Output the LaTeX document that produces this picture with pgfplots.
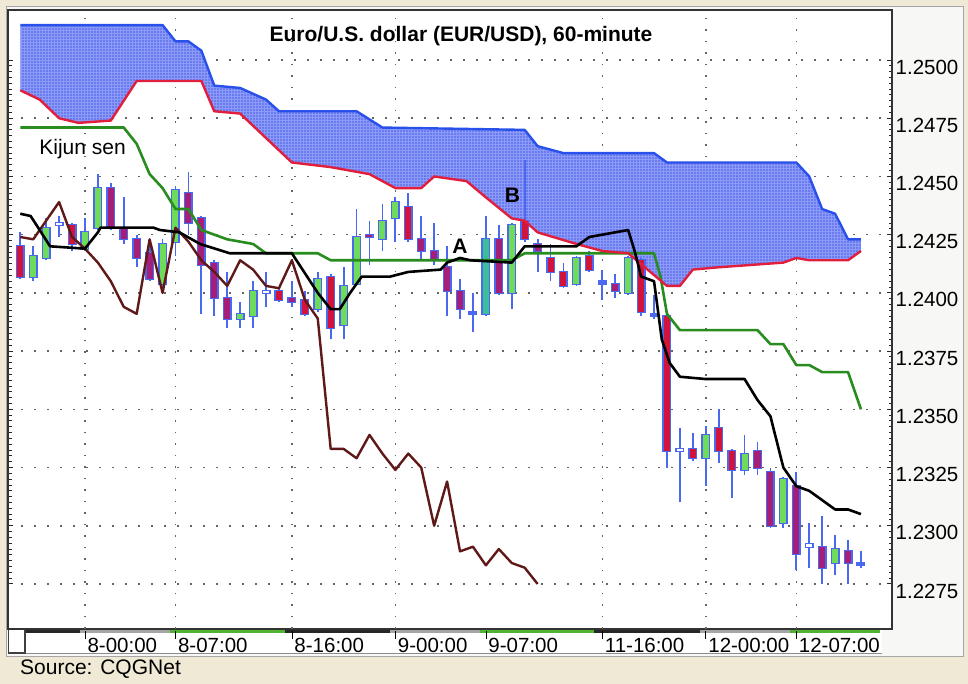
\documentclass[border=0pt]{standalone}
\usepackage{pgfplots}
\pgfplotsset{compat=1.18}
\usepackage{pgfplotstable}
\usetikzlibrary{patterns}
\usepackage{fontspec}
\setmainfont{Liberation Sans}

\definecolor{cream}{RGB}{239,233,213}
\definecolor{panel}{RGB}{247,247,245}
\definecolor{cloudfill}{RGB}{95,112,238}
\definecolor{cloudgrid}{RGB}{140,154,248}
\definecolor{lblue}{RGB}{40,80,235}
\definecolor{lred}{RGB}{225,30,60}
\definecolor{lgreen}{RGB}{40,140,30}
\definecolor{lbrown}{RGB}{95,25,25}
\definecolor{cwick}{RGB}{75,105,240}
\definecolor{cgreen}{RGB}{110,220,90}
\definecolor{cteal}{RGB}{60,190,150}
\definecolor{cred}{RGB}{210,20,60}
\definecolor{cmag}{RGB}{165,30,120}
\definecolor{bandgray}{RGB}{165,165,165}
\definecolor{bandgreen}{RGB}{80,180,50}
\definecolor{griddot}{RGB}{100,100,100}

\pgfplotsset{
  wick/.style={draw=cwick, line width=1.8pt},
  bodyo/.style={draw=cwick, line width=9pt, shorten <=-1pt, shorten >=-1pt},
  bodyi/.style={line width=6pt},
}
\newcommand{\cdl}[6]{%
  \addplot[wick] coordinates {(#1,#4) (#1,#3)};
  \addplot[bodyo] coordinates {(#1,#2) (#1,#5)};
  \addplot[bodyi, draw=#6] coordinates {(#1,#2) (#1,#5)};
}

% Senkou span B (upper cloud edge, blue)
\pgfplotstableread{
x y
-5 1.2515
6 1.2515
7 1.2508
8 1.2508
9 1.2504
10 1.2489
12 1.2488
14 1.2483
15 1.2478
21 1.2478
23 1.2471
34 1.2470
35 1.2463
37 1.2460
44 1.2460
45 1.2456
55 1.2456
56 1.2450
57 1.2436
58 1.2434
59 1.2423
60 1.2423
}\spanB

% Senkou span A (lower cloud edge, red)
\pgfplotstableread{
x y
-5 1.2487
-3.5 1.2483
-2 1.2475
-0.5 1.2473
2 1.2474
4 1.2491
9 1.2491
10 1.2478
12 1.2477
16 1.2456
19 1.2454
22 1.2451
24 1.2445
26 1.2445
27 1.2450
29.5 1.2448
31 1.2441
33 1.2432
34 1.2431
35 1.2426
38 1.2421
40 1.2418
42 1.2417
45 1.2403
46 1.2403
47 1.2410
49 1.2411
54 1.2413
55 1.2415
56 1.2414
59 1.2414
60 1.2418
}\spanA

% Cloud outline: span B forward, span A backward
\pgfplotstableread{
x y
-5 1.2515
6 1.2515
7 1.2508
8 1.2508
9 1.2504
10 1.2489
12 1.2488
14 1.2483
15 1.2478
21 1.2478
23 1.2471
34 1.2470
35 1.2463
37 1.2460
44 1.2460
45 1.2456
55 1.2456
56 1.2450
57 1.2436
58 1.2434
59 1.2423
60 1.2423
60 1.2418
59 1.2414
56 1.2414
55 1.2415
54 1.2413
49 1.2411
47 1.2410
46 1.2403
45 1.2403
42 1.2417
40 1.2418
38 1.2421
35 1.2426
34 1.2431
33 1.2432
31 1.2441
29.5 1.2448
27 1.2450
26 1.2445
24 1.2445
22 1.2451
19 1.2454
16 1.2456
12 1.2477
10 1.2478
9 1.2491
4 1.2491
2 1.2474
-0.5 1.2473
-2 1.2475
-3.5 1.2483
-5 1.2487
}\cloud

% Kijun sen (green)
\pgfplotstableread{
x y
-5 1.2471
3 1.2471
4 1.2464
5 1.2451
6 1.2445
7 1.2436
8 1.2436
9 1.2427
11 1.2423
13 1.2421
14 1.2417
18 1.2417
19 1.2414
33 1.2414
34 1.2417
44 1.2417
44.5 1.2407
45 1.2391
46 1.2384
52 1.2384
53 1.2378
54 1.2378
55 1.2369
56 1.2369
57 1.2366
59 1.2366
60 1.2350
}\kijun

% Tenkan sen (black)
\pgfplotstableread{
x y
-5 1.2434
-4.2 1.2433
-3.5 1.2427
-2.7 1.2420
0 1.2419
1 1.2426
1.2 1.2428
5.3 1.2428
5.8 1.2427
7.3 1.2426
8.9 1.2421
11.2 1.2417
16 1.2417
18 1.2400
19 1.2393
19.7 1.2393
20.5 1.2400
21.4 1.2407
23.6 1.2407
25 1.2409
27.5 1.2410
28 1.2413
29 1.2415
29.8 1.2414
33 1.2413
34 1.2420
38 1.2420
39 1.2424
41 1.2426
42 1.2427
42.5 1.2418
43 1.2407
44 1.2405
44.6 1.2380
45.2 1.2370
46 1.2364
48 1.2363
51 1.2363
52 1.2354
53 1.2347
54 1.2325
55 1.2317
56 1.2315
58 1.2307
59 1.2307
60 1.2305
}\tenkan

% Chikou span (brown)
\pgfplotstableread{
x y
-5 1.2424
-4 1.2423
-3 1.2431
-2 1.2439
-1 1.2424
0 1.2419
1 1.2413
2 1.2405
3 1.2394
4 1.2391
5 1.2423
6 1.2400
7 1.2428
8 1.2422
9 1.2414
10 1.2409
11 1.2403
12 1.2414
13 1.2410
14 1.2403
15 1.2402
16 1.2414
17 1.2397
18 1.2389
19 1.2333
20 1.2333
21 1.2329
22 1.2339
23 1.2331
24 1.2324
25 1.2331
26 1.2325
27 1.2300
28 1.2319
29 1.2289
30 1.2291
31 1.2283
32 1.2290
33 1.2284
34 1.2282
35 1.2275
}\chikou

\begin{document}
\begin{tikzpicture}
\begin{scope}[x=1pt,y=1pt]
\useasboundingbox (0,0) rectangle (968,684);
\fill[cream] (0,0) rectangle (968,684);
\fill[panel] (6,28) rectangle (963,678);
\draw[black!35, line width=0.8pt] (6,28) rectangle (963,678);
\fill[white] (8,31) rectangle (882,55);
\draw[black!45, line width=0.8pt] (8,31) -- (882,31);
\fill[black!85] (25,51) rectangle (80,55);
\fill[bandgray] (80,51) rectangle (170,55);
\fill[bandgreen] (170,51) rectangle (285,55);
\fill[black!85] (285,51) rectangle (390,55);
\fill[bandgray] (390,51) rectangle (480,55);
\fill[bandgreen] (480,51) rectangle (594,55);
\fill[black!85] (594,51) rectangle (700,55);
\fill[bandgray] (700,51) rectangle (790,55);
\fill[bandgreen] (790,51) rectangle (880,55);
\draw[black!75, line width=1.2pt, fill=white] (8.6,31) rectangle (25,55);
\end{scope}

\begin{axis}[
  at={(8pt,55pt)}, anchor=south west,
  scale only axis, width=884pt, height=619pt,
  xmin=-5.95, xmax=62.4, ymin=1.225567, ymax=1.252148,
  axis background/.style={fill=white},
  axis line style={draw=black!80, line width=1.2pt},
  xtick={0,7,16,24,31,40,48,55},
  xticklabels={{\rule[13pt]{0.9pt}{8pt}\hspace{2pt}8-00:00},
               {\rule[13pt]{0.9pt}{8pt}\hspace{2pt}8-07:00},
               {\rule[13pt]{0.9pt}{8pt}\hspace{2pt}8-16:00},
               {\rule[13pt]{0.9pt}{8pt}\hspace{2pt}9-00:00},
               {\rule[13pt]{0.9pt}{8pt}\hspace{2pt}9-07:00},
               {\rule[13pt]{0.9pt}{8pt}\hspace{2pt}11-16:00},
               {\rule[13pt]{0.9pt}{8pt}\hspace{2pt}12-00:00},
               {\rule[13pt]{0.9pt}{8pt}\hspace{2pt}12-07:00}},
  xtick style={draw=none},
  xtick pos=bottom,
  xticklabel style={font=\fontsize{20.5}{24}\selectfont, anchor=north west, inner sep=0pt, xshift=-0.5pt, yshift=-2pt},
  extra x ticks={0,7,16,24,40,48,55},
  extra x tick labels={},
  extra x tick style={grid=major, major tick length=0pt},
  x grid style={draw=griddot, line width=1.5pt, dash pattern=on 1.5pt off 10pt},
  ytick={1.2275,1.2300,1.2325,1.2350,1.2375,1.2400,1.2425,1.2450,1.2475,1.2500},
  yticklabels={1.2275,1.2300,1.2325,1.2350,1.2375,1.2400,1.2425,1.2450,1.2475,1.2500},
  yticklabel pos=right,
  ytick pos=both,
  minor y tick num=9,
  tick align=inside,
  major tick length=5pt, minor tick length=3.5pt,
  ytick style={draw=black!85, line width=1pt},
  minor tick style={draw=black!85, line width=1pt},
  yticklabel style={font=\fontsize{20.5}{24}\selectfont, anchor=west, inner sep=0pt, xshift=3.5pt, yshift=-7pt},
  ymajorgrids,
  y grid style={draw=griddot, line width=1.5pt, dash pattern=on 1.5pt off 11.5pt},
  clip=true,
]
\addplot[fill=cloudfill, draw=none, fill opacity=0.93] table {\cloud};
\addplot[pattern=grid, pattern color=cloudgrid, draw=none] table {\cloud};

\cdl{-5}{1.2420}{1.2426}{1.2406}{1.2407}{cred}
\cdl{-4}{1.2407}{1.2420}{1.2405}{1.2416}{cgreen}
\cdl{-3}{1.2415}{1.2432}{1.2414}{1.2428}{cgreen}
\cdl{-2}{1.2430}{1.2433}{1.2424}{1.2429}{white}
\cdl{-1}{1.2429}{1.2430}{1.2418}{1.2421}{cred}
\cdl{0}{1.2419}{1.2432}{1.2418}{1.2426}{cgreen}
\cdl{1}{1.2428}{1.2451}{1.2427}{1.2445}{cgreen}
\cdl{2}{1.2445}{1.2447}{1.2427}{1.2428}{cmag}
\cdl{3}{1.2428}{1.2441}{1.2421}{1.2423}{cmag}
\cdl{4}{1.2423}{1.2425}{1.2411}{1.2415}{cmag}
\cdl{5}{1.2417}{1.2423}{1.2405}{1.2406}{cmag}
\cdl{6}{1.2404}{1.2423}{1.2403}{1.2421}{cgreen}
\cdl{7}{1.2422}{1.2446}{1.2416}{1.2444}{cgreen}
\cdl{8}{1.2443}{1.2452}{1.2425}{1.2430}{cmag}
\cdl{9}{1.2432}{1.2433}{1.2391}{1.2412}{cmag}
\cdl{10}{1.2413}{1.2414}{1.2390}{1.2398}{cmag}
\cdl{11}{1.2398}{1.2409}{1.2385}{1.2389}{cmag}
\cdl{12}{1.2389}{1.2396}{1.2385}{1.2391}{cgreen}
\cdl{13}{1.2390}{1.2405}{1.2385}{1.2401}{cgreen}
\cdl{14}{1.2401}{1.2409}{1.2394}{1.2400}{white}
\cdl{15}{1.2401}{1.2402}{1.2396}{1.2397}{cred}
\cdl{16}{1.2398}{1.2405}{1.2394}{1.2396}{cmag}
\cdl{17}{1.2397}{1.2401}{1.2390}{1.2391}{cred}
\cdl{18}{1.2393}{1.2409}{1.2392}{1.2406}{cgreen}
\cdl{19}{1.2407}{1.2408}{1.2380}{1.2385}{cred}
\cdl{20}{1.2386}{1.2411}{1.2380}{1.2403}{cgreen}
\cdl{21}{1.2404}{1.2436}{1.2403}{1.2424}{cgreen}
\cdl{22}{1.2425}{1.2431}{1.2412}{1.2424}{cmag}
\cdl{23}{1.2423}{1.2438}{1.2418}{1.2431}{cgreen}
\cdl{24}{1.2432}{1.2441}{1.2422}{1.2439}{cgreen}
\cdl{25}{1.2437}{1.2443}{1.2422}{1.2423}{cred}
\cdl{26}{1.2423}{1.2433}{1.2414}{1.2418}{cmag}
\cdl{27}{1.2418}{1.2430}{1.2412}{1.2414}{cmag}
\cdl{28}{1.2411}{1.2420}{1.2390}{1.2401}{cmag}
\cdl{29}{1.2401}{1.2406}{1.2389}{1.2393}{cmag}
\cdl{30}{1.2392}{1.2400}{1.2383}{1.2391}{cwick}
\cdl{31}{1.2391}{1.2433}{1.2390}{1.2423}{cteal}
\cdl{32}{1.2423}{1.2429}{1.2399}{1.2400}{cmag}
\cdl{33}{1.2400}{1.2430}{1.2393}{1.2429}{cgreen}
\cdl{34}{1.2431}{1.2457}{1.2422}{1.2423}{cred}
\cdl{35}{1.2421}{1.2423}{1.2409}{1.2418}{cmag}
\cdl{36}{1.2415}{1.2421}{1.2405}{1.2409}{cred}
\cdl{37}{1.2409}{1.2413}{1.2402}{1.2403}{cred}
\cdl{38}{1.2404}{1.2416}{1.2403}{1.2415}{cgreen}
\cdl{39}{1.2416}{1.2418}{1.2409}{1.2410}{cred}
\cdl{40}{1.2405}{1.2410}{1.2397}{1.2404}{cwick}
\cdl{41}{1.2404}{1.2408}{1.2398}{1.2401}{cmag}
\cdl{42}{1.2400}{1.2416}{1.2399}{1.2415}{cgreen}
\cdl{43}{1.2414}{1.2415}{1.2390}{1.2392}{cred}
\cdl{44}{1.2391}{1.2399}{1.2389}{1.2390}{cwick}
\cdl{45}{1.2390}{1.2391}{1.2325}{1.2332}{cred}
\cdl{46}{1.2333}{1.2342}{1.2310}{1.2332}{white}
\cdl{47}{1.2333}{1.2340}{1.2328}{1.2329}{cred}
\cdl{48}{1.2329}{1.2343}{1.2317}{1.2339}{cgreen}
\cdl{49}{1.2342}{1.2350}{1.2327}{1.2332}{cred}
\cdl{50}{1.2332}{1.2333}{1.2312}{1.2324}{cred}
\cdl{51}{1.2324}{1.2339}{1.2322}{1.2331}{cgreen}
\cdl{52}{1.2332}{1.2336}{1.2322}{1.2325}{cmag}
\cdl{53}{1.2323}{1.2325}{1.2299}{1.2300}{cmag}
\cdl{54}{1.2301}{1.2321}{1.2299}{1.2320}{cgreen}
\cdl{55}{1.2317}{1.2323}{1.2281}{1.2288}{cmag}
\cdl{56}{1.2292}{1.2301}{1.2282}{1.2291}{white}
\cdl{57}{1.2291}{1.2304}{1.2275}{1.2282}{cmag}
\cdl{58}{1.2284}{1.2296}{1.2279}{1.2290}{cgreen}
\cdl{59}{1.2289}{1.2294}{1.2275}{1.2284}{cmag}
\cdl{60}{1.2284}{1.2289}{1.2282}{1.2283}{cwick}

\addplot[draw=lbrown, line width=2.4pt, line join=round] table {\chikou};
\addplot[draw=lgreen, line width=2.6pt, line join=round] table {\kijun};
\addplot[draw=lred, line width=2.4pt, line join=round] table {\spanA};
\addplot[draw=lblue, line width=2.4pt, line join=round] table {\spanB};
\addplot[draw=black, line width=2.6pt, line join=round] table {\tenkan};

\node[anchor=base west, font=\fontsize{21}{25}\selectfont] at (axis cs:-3.8,1.24596) {Kijun sen};
\node[anchor=base, font=\bfseries\fontsize{21}{25}\selectfont] at (axis cs:29.0,1.24171) {A};
\node[anchor=base, font=\bfseries\fontsize{21}{25}\selectfont] at (axis cs:33.06,1.24386) {B};
\end{axis}

\begin{scope}[x=1pt,y=1pt]
\node[anchor=base, font=\bfseries\fontsize{21}{25}\selectfont] at (461,642) {Euro/U.S. dollar (EUR/USD), 60-minute};
\node[anchor=base west, font=\fontsize{21}{25}\selectfont, inner sep=0pt] at (20,9) {Source: CQGNet};
\end{scope}
\end{tikzpicture}
\end{document}
